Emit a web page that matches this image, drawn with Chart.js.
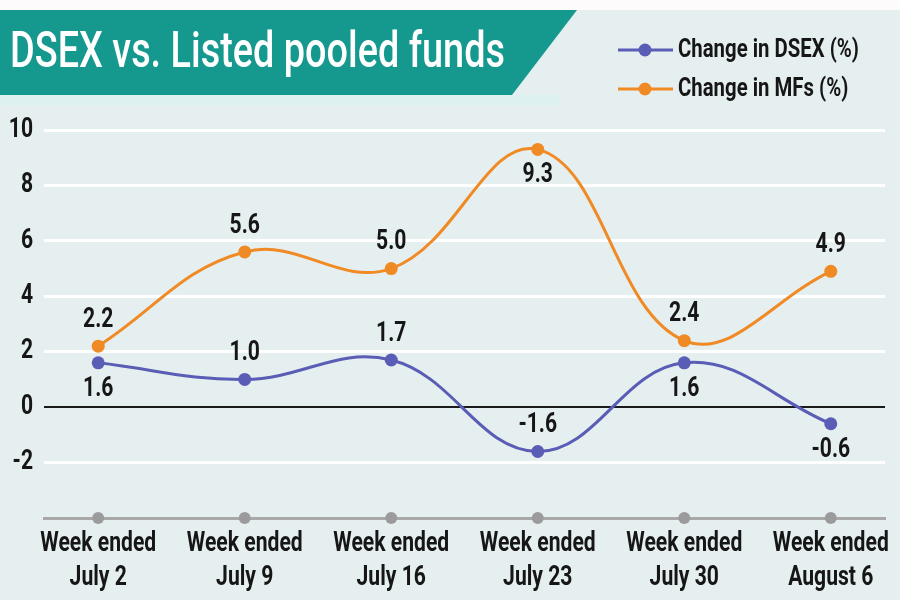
<!DOCTYPE html>
<html>
<head>
<meta charset="utf-8">
<title>DSEX vs. Listed pooled funds</title>
<script src="https://cdn.jsdelivr.net/npm/chart.js@4.4.0/dist/chart.umd.min.js"></script>
<style>
  html, body { margin: 0; padding: 0; background: #e6eff0; }
  #wrap { width: 900px; height: 600px; }
</style>
</head>
<body>
<div id="wrap"><canvas id="fundChart" width="900" height="600"></canvas></div>
<script>
// chart data
var weeks = [
    ['Week ended', 'July 2'],
    ['Week ended', 'July 9'],
    ['Week ended', 'July 16'],
    ['Week ended', 'July 23'],
    ['Week ended', 'July 30'],
    ['Week ended', 'August 6']
];
var dsexChange = [1.6, 1.0, 1.7, -1.6, 1.6, -0.6];
var mfChange = [2.2, 5.6, 5.0, 9.3, 2.4, 4.9];
var yTicks = [-4, -2, 0, 2, 4, 6, 8, 10];

var titleText = 'DSEX vs. Listed pooled funds';
var baseFont = 'Roboto, "Noto Sans", sans-serif';
var textColor = '#161616';

// no condensed face installed, so text is squeezed horizontally
var squeeze = 0.8;
(function () {
    var c = document.createElement('canvas').getContext('2d');
    c.font = 'bold 27px ' + baseFont;
    squeeze = 116 / c.measureText('Week ended').width;
})();

function narrowText(ctx, text, x, y, align, size, weight) {
    ctx.save();
    ctx.font = (weight || 'bold') + ' ' + size + 'px ' + baseFont;
    ctx.translate(x, y);
    ctx.scale(squeeze, 1);
    ctx.textAlign = align;
    ctx.textBaseline = 'middle';
    ctx.fillText(text, 0, 0);
    ctx.restore();
}

function toPoints(values) {
    return values.map(function (v, i) { return { x: i, y: v }; });
}

// banner, background and legend
var framePlugin = {
    id: 'frame',
    beforeDraw: function (chart) {
        var ctx = chart.ctx;
        ctx.save();
        ctx.fillStyle = '#e6eff0';
        ctx.fillRect(0, 0, chart.width, chart.height);
        ctx.fillStyle = '#fdfbfb';
        ctx.fillRect(0, 0, chart.width, 10);
        ctx.fillStyle = '#dcf1f0';
        ctx.fillRect(0, 95, 560, 10);

        ctx.fillStyle = '#15998f';
        ctx.beginPath();
        ctx.moveTo(0, 10);
        ctx.lineTo(577, 10);
        ctx.lineTo(512, 95);
        ctx.lineTo(0, 95);
        ctx.closePath();
        ctx.fill();

        ctx.font = '500 50px ' + baseFont;
        var w = ctx.measureText(titleText).width;
        ctx.translate(10, 67);
        ctx.scale(495 / w, 1);
        ctx.fillStyle = '#ffffff';
        ctx.textBaseline = 'alphabetic';
        ctx.fillText(titleText, 0, 0);
        ctx.restore();
    },
    afterDraw: function (chart) {
        var ctx = chart.ctx;
        ctx.save();
        chart.data.datasets.forEach(function (ds, i) {
            var y = 50 + i * 39;
            ctx.strokeStyle = ds.borderColor;
            ctx.lineWidth = 3;
            ctx.beginPath();
            ctx.moveTo(618, y);
            ctx.lineTo(673, y);
            ctx.stroke();
            ctx.fillStyle = ds.borderColor;
            ctx.beginPath();
            ctx.arc(645, y, 6.5, 0, Math.PI * 2);
            ctx.fill();
            ctx.fillStyle = textColor;
            narrowText(ctx, ds.label, 678, y, 'left', 26);
        });
        ctx.restore();
    }
};

// tick labels, grey dots on the x axis and value labels
var labelPlugin = {
    id: 'valueLabels',
    afterDatasetsDraw: function (chart) {
        var ctx = chart.ctx;
        var xs = chart.scales.x;
        var ys = chart.scales.y;
        var area = chart.chartArea;
        ctx.save();
        ctx.fillStyle = '#9b9b9b';
        weeks.forEach(function (w, i) {
            ctx.beginPath();
            ctx.arc(xs.getPixelForValue(i), area.bottom, 6, 0, Math.PI * 2);
            ctx.fill();
        });

        ctx.fillStyle = textColor;
        weeks.forEach(function (w, i) {
            var px = xs.getPixelForValue(i);
            narrowText(ctx, w[0], px, area.bottom + 26, 'center', 27);
            narrowText(ctx, w[1], px, area.bottom + 60, 'center', 27);
        });
        ys.ticks.forEach(function (t) {
            if (t.value === yTicks[0]) return;
            narrowText(ctx, String(t.value), area.left - 11, ys.getPixelForValue(t.value), 'right', 27);
        });

        chart.data.datasets.forEach(function (ds, di) {
            var meta = chart.getDatasetMeta(di);
            meta.data.forEach(function (pt, i) {
                var off = ds.labelSide[i] === 'below' ? 26 : -26;
                narrowText(ctx, ds.data[i].y.toFixed(1), pt.x, pt.y + off, 'center', 27);
            });
        });
        ctx.restore();
    }
};

var fundChart = new Chart(document.getElementById('fundChart'), {
    type: 'line',
    data: {
        datasets: [{
            label: 'Change in DSEX (%)',
            data: toPoints(dsexChange),
            borderColor: '#5a5db5',
            backgroundColor: '#5a5db5',
            borderWidth: 3,
            tension: 0.4,
            pointRadius: 6.5,
            pointBorderWidth: 0,
            labelSide: ['below', 'above', 'above', 'above', 'below', 'below']
        }, {
            label: 'Change in MFs (%)',
            data: toPoints(mfChange),
            borderColor: '#f08a24',
            backgroundColor: '#f08a24',
            borderWidth: 3,
            tension: 0.4,
            pointRadius: 6.5,
            pointBorderWidth: 0,
            labelSide: ['above', 'above', 'above', 'below', 'above', 'above']
        }]
    },
    options: {
        responsive: false,
        animation: false,
        layout: {
            padding: { top: 130, left: 44, right: 15, bottom: 74 }
        },
        plugins: {
            legend: { display: false },
            tooltip: { enabled: false }
        },
        scales: {
            x: {
                type: 'linear',
                min: -0.37,
                max: weeks.length - 1 + 0.37,
                grid: { display: false },
                border: { color: '#a8a8a8', width: 3 },
                ticks: { display: false, stepSize: 1, includeBounds: false }
            },
            y: {
                min: yTicks[0],
                max: yTicks[yTicks.length - 1],
                border: { display: false },
                grid: {
                    drawTicks: false,
                    color: function (c) {
                        if (c.tick.value === 0) return '#1a1a1a';
                        if (c.tick.value === yTicks[0]) return 'rgba(0,0,0,0)';
                        return '#ffffff';
                    },
                    lineWidth: function (c) { return c.tick.value === 0 ? 2 : 3; }
                },
                ticks: { display: false, stepSize: 2 }
            }
        }
    },
    plugins: [framePlugin, labelPlugin]
});
</script>
</body>
</html>
